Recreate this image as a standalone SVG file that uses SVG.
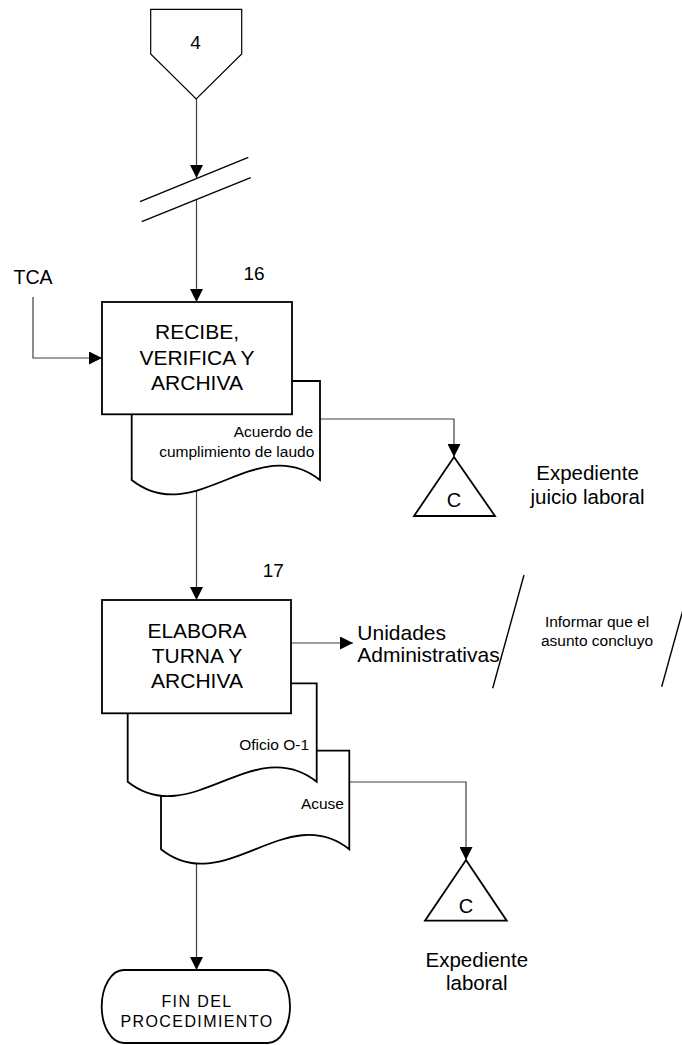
<svg xmlns="http://www.w3.org/2000/svg" width="682" height="1045" viewBox="0 0 682 1045">
  <style>
    text { font-family: "Liberation Sans", Arial, sans-serif; fill: #000; }
    .shape { fill: #fff; stroke: #000; stroke-width: 1.8; }
    .thin { fill: #fff; stroke: #000; stroke-width: 1.2; }
    .conn { fill: none; stroke: #404040; stroke-width: 1.2; }
    .brk { fill: none; stroke: #000; stroke-width: 1.4; }
    .big { font-size: 21px; text-anchor: middle; }
    .num { font-size: 19px; text-anchor: middle; }
    .doc { font-size: 15.5px; text-anchor: end; }
    .lbl { font-size: 20.5px; text-anchor: middle; }
    .fin { font-size: 16px; text-anchor: middle; letter-spacing: 1.4px; }
  </style>
  <defs>
    <marker id="arr" markerUnits="userSpaceOnUse" markerWidth="13" markerHeight="13" viewBox="0 0 12 12" refX="12" refY="6" orient="auto">
      <path d="M0,0 L12,6 L0,12 z" fill="#000"/>
    </marker>
  </defs>

  <g id="connectors">
    <path class="conn" d="M196.5,99 V178" marker-end="url(#arr)"/>
    <path class="conn" d="M196.5,199.5 V302" marker-end="url(#arr)"/>
    <path class="conn" d="M33,297 V358 H102" marker-end="url(#arr)"/>
    <path class="conn" d="M320,419 H454 V457" marker-end="url(#arr)"/>
    <path class="conn" d="M196.5,490 V600" marker-end="url(#arr)"/>
    <path class="conn" d="M291,643 H353" marker-end="url(#arr)"/>
    <path class="conn" d="M349.3,782 H466 V860" marker-end="url(#arr)"/>
    <path class="conn" d="M196.5,862 V970" marker-end="url(#arr)"/>
  </g>

  <g id="offpage-4">
    <polygon class="thin" points="150.7,9.3 241.7,9.3 241.7,54 196.2,99 150.7,54"/>
    <text class="num" x="195.5" y="48.5">4</text>
  </g>

  <g id="break">
    <line class="brk" x1="248.3" y1="157.3" x2="140" y2="201.7"/>
    <line class="brk" x1="250.7" y1="177.7" x2="141.7" y2="221.7"/>
  </g>

  <g id="tca">
    <text x="33" y="283.5" font-size="19.5" text-anchor="middle">TCA</text>
  </g>

  <g id="doc-acuerdo">
    <path class="shape" d="M131.7,381 H320 V480 C257,430 194.7,530 131.7,480 Z"/>
    <text class="doc" x="313" y="437.3">Acuerdo de</text>
    <text class="doc" x="314.3" y="456.7">cumplimiento de laudo</text>
  </g>

  <g id="step-16">
    <rect class="shape" x="102" y="302" width="190" height="112.3"/>
    <text class="big" x="197" y="339.3">RECIBE,</text>
    <text class="big" x="197" y="364.5">VERIFICA Y</text>
    <text class="big" x="197" y="390">ARCHIVA</text>
    <text class="num" x="254" y="280">16</text>
  </g>

  <g id="archive-c1">
    <polygon class="shape" points="454,457 495,516 414,516"/>
    <text x="454" y="507.3" font-size="20" text-anchor="middle">C</text>
    <text class="lbl" x="587.5" y="480">Expediente</text>
    <text class="lbl" x="587.5" y="503.5">juicio laboral</text>
  </g>

  <g id="doc-acuse">
    <path class="shape" d="M161,750.7 H349.3 V849.3 C286.5,799.3 223.8,899.3 161,849.3 Z"/>
    <text class="doc" x="344" y="809">Acuse</text>
  </g>

  <g id="doc-oficio">
    <path class="shape" d="M127.7,683.3 H316.7 V781.7 C253.7,731.7 190.7,831.7 127.7,781.7 Z"/>
    <text class="doc" x="309" y="750">Oficio O-1</text>
  </g>

  <g id="step-17">
    <rect class="shape" x="102" y="600" width="189" height="113.3"/>
    <text class="big" x="197" y="638.3">ELABORA</text>
    <text class="big" x="197" y="663.3">TURNA Y</text>
    <text class="big" x="197" y="688.3">ARCHIVA</text>
    <text class="num" x="273.3" y="576.7">17</text>
  </g>

  <g id="unidades">
    <text x="357.3" y="640" font-size="21">Unidades</text>
    <text x="357.3" y="661.7" font-size="21">Administrativas</text>
  </g>

  <g id="annotation">
    <line class="brk" x1="524" y1="575" x2="492.7" y2="688.3" stroke-width="1.1"/>
    <line class="brk" x1="692.6" y1="575" x2="661.7" y2="686.7" stroke-width="1.1"/>
    <text x="597" y="626.7" font-size="15.5" text-anchor="middle">Informar que el</text>
    <text x="597" y="646" font-size="15.5" text-anchor="middle">asunto concluyo</text>
  </g>

  <g id="archive-c2">
    <polygon class="shape" points="466,860 506.7,920.7 425,920.7"/>
    <text x="466" y="913.3" font-size="20" text-anchor="middle">C</text>
    <text class="lbl" x="476.8" y="966.7">Expediente</text>
    <text class="lbl" x="476.8" y="990">laboral</text>
  </g>

  <g id="fin">
    <rect class="shape" x="101.7" y="970" width="188.3" height="73" rx="22" ry="36.5"/>
    <text class="fin" x="197" y="1007">FIN DEL</text>
    <text class="fin" x="197" y="1027">PROCEDIMIENTO</text>
  </g>
</svg>
